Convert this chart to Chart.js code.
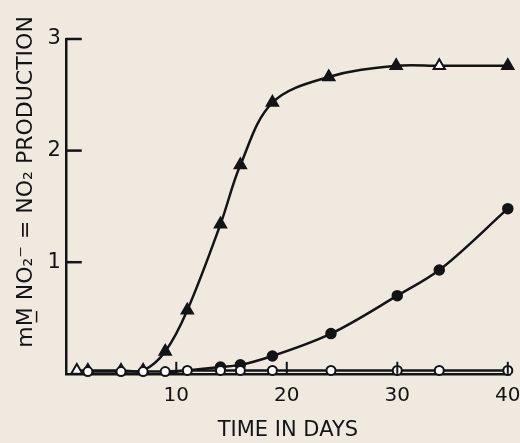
<!DOCTYPE html>
<html>
<head>
<meta charset="utf-8">
<script src="https://cdn.jsdelivr.net/npm/chart.js@4"></script>
<style>
  html, body { margin: 0; padding: 0; background: #efe9e0; }
  #wrap { width: 520px; height: 443px; }
</style>
</head>
<body>
<div id="wrap"><canvas id="c" width="520" height="443"></canvas></div>
<script>
// filled triangles (open ones near zero at the start)
const triDays = [1, 2, 5, 7, 9, 11, 14, 15.8, 18.7, 23.8, 29.9, 33.8, 40];
const triVals = [0.03, 0.03, 0.03, 0.03, 0.2, 0.57, 1.34, 1.87, 2.43, 2.66, 2.76, 2.76, 2.76];
const triOpen = [true, true, true, true, false, false, false, false, false, false, false, true, false];

// filled circles
const dotDays = [9, 11, 14, 15.8, 18.7, 24, 30, 33.8, 40];
const dotVals = [0.01, 0.03, 0.06, 0.08, 0.16, 0.36, 0.70, 0.93, 1.48];
const dotShown = [false, false, true, true, true, true, true, true, true];

// open circles
const ringDays = [2, 5, 7, 9, 11, 14, 15.8, 18.7, 24, 30, 33.8, 40];
const ringVals = [0.02, 0.02, 0.02, 0.02, 0.03, 0.03, 0.03, 0.03, 0.03, 0.03, 0.03, 0.03];

const xTicks = [10, 20, 30, 40];
const yTicks = [0, 1, 2, 3];

const ink = '#141414';

function pts(xs, ys) {
    return xs.map((x, i) => ({ x: x, y: ys[i] }));
}

// little inward tick marks like the printed figure
const innerTicks = {
    id: 'innerTicks',
    afterDraw(chart) {
        const ctx = chart.ctx;
        const xs = chart.scales.x, ys = chart.scales.y;
        ctx.save();
        ctx.strokeStyle = ink;
        ctx.lineWidth = 2.5;
        yTicks.forEach(v => {
            if (v === 0) return;
            const py = ys.getPixelForValue(v);
            ctx.beginPath();
            ctx.moveTo(xs.left, py);
            ctx.lineTo(xs.left + 16, py);
            ctx.stroke();
        });
        ctx.lineWidth = 2;
        xTicks.forEach(v => {
            const px = xs.getPixelForValue(v);
            ctx.beginPath();
            ctx.moveTo(px, ys.bottom);
            ctx.lineTo(px, ys.bottom - 12);
            ctx.stroke();
        });
        ctx.restore();
    }
};

new Chart(document.getElementById('c'), {
    type: 'scatter',
    data: {
        datasets: [
            {
                label: 'open circles',
                data: pts(ringDays, ringVals),
                showLine: true,
                borderColor: ink,
                borderWidth: 2.5,
                backgroundColor: '#fff',
                pointBackgroundColor: '#fff',
                pointBorderColor: ink,
                pointBorderWidth: 2,
                pointRadius: 4.5,
                pointStyle: 'circle'
            },
            {
                label: 'filled circles',
                data: pts(dotDays, dotVals),
                showLine: true,
                cubicInterpolationMode: 'monotone',
                borderColor: ink,
                borderWidth: 2.5,
                pointBackgroundColor: ink,
                pointBorderColor: ink,
                pointRadius: dotShown.map(s => s ? 4.5 : 0),
                pointStyle: 'circle'
            },
            {
                label: 'triangles',
                data: pts(triDays, triVals),
                showLine: true,
                tension: 0.35,
                borderColor: ink,
                borderWidth: 2.5,
                pointBackgroundColor: triOpen.map(o => o ? '#fff' : ink),
                pointBorderColor: ink,
                pointBorderWidth: 2,
                pointRadius: 6.5,
                pointStyle: 'triangle'
            }
        ]
    },
    options: {
        responsive: false,
        animation: false,
        clip: false,
        layout: { padding: { top: 39, right: 0, left: 13, bottom: 0 } },
        plugins: {
            legend: { display: false },
            tooltip: { enabled: false }
        },
        scales: {
            x: {
                type: 'linear',
                min: 0,
                max: 40.2,
                afterBuildTicks: s => { s.ticks = xTicks.map(v => ({ value: v })); },
                afterFit: s => { s.paddingRight = 10; },
                grid: { display: false, drawTicks: false },
                border: { display: true, color: ink, width: 2.5 },
                ticks: {
                    color: ink,
                    padding: 10,
                    font: { family: 'DejaVu Sans', size: 20 },
                    callback: v => String(v)
                },
                title: {
                    display: true,
                    text: 'TIME IN DAYS',
                    color: ink,
                    font: { family: 'DejaVu Sans', size: 21 },
                    padding: { top: 0, bottom: 0 }
                }
            },
            y: {
                min: 0,
                max: 3,
                afterBuildTicks: s => { s.ticks = yTicks.map(v => ({ value: v })); },
                grid: { display: false, drawTicks: false },
                border: { display: true, color: ink, width: 2.5 },
                ticks: {
                    color: ink,
                    padding: 5,
                    font: { family: 'DejaVu Sans', size: 21 },
                    callback: v => (v === 0 ? '' : String(v))
                },
                title: {
                    display: true,
                    text: '\u00A0\u00A0\u00A0\u00A0\u00A0\u00A0\u00A0mM\u0332 NO\u2082\u207B = NO\u2082 PRODUCTION',
                    color: ink,
                    font: { family: 'DejaVu Sans', size: 22 },
                    padding: { top: 0, bottom: 3 }
                }
            }
        }
    },
    plugins: [innerTicks]
});
</script>
</body>
</html>
